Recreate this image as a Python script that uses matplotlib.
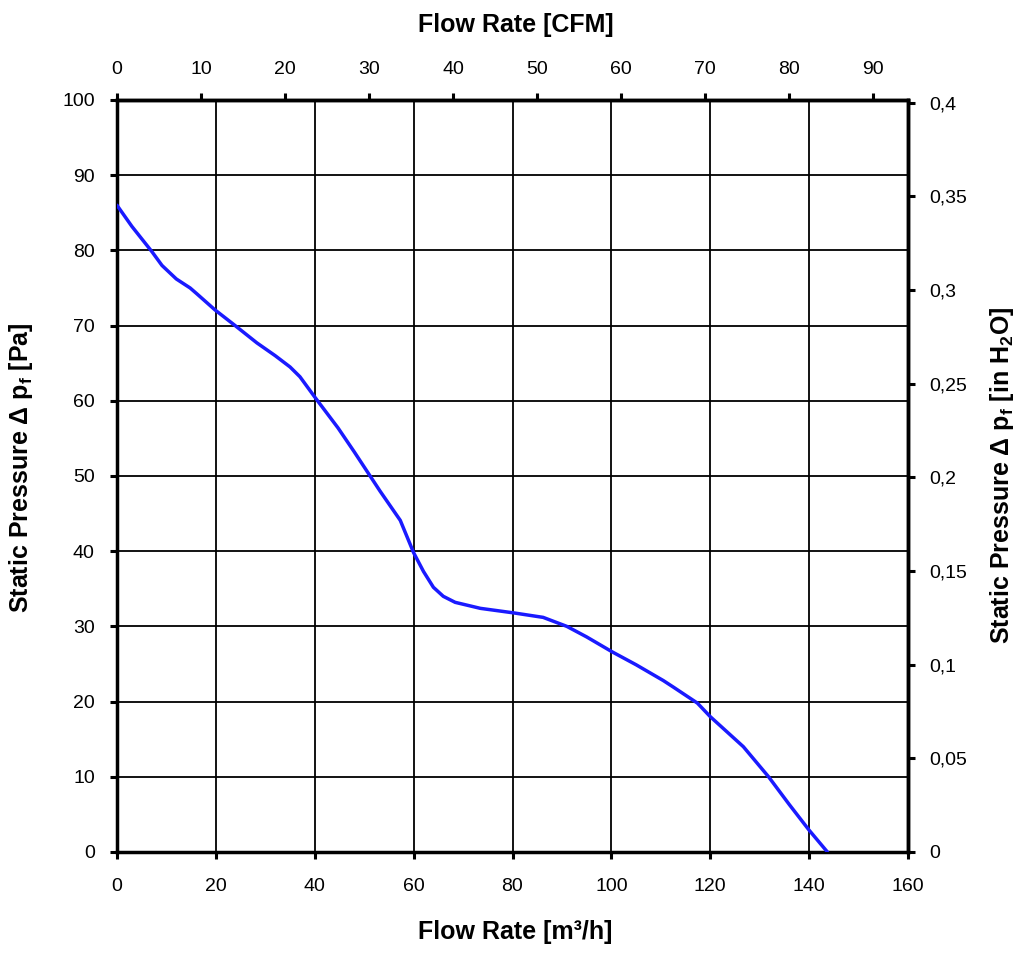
import numpy as np
import matplotlib
matplotlib.use("Agg")
import matplotlib.pyplot as plt
from matplotlib.ticker import FixedLocator, FuncFormatter

plt.rcParams['font.family'] = ['Liberation Sans', 'DejaVu Sans']
plt.rcParams['mathtext.fontset'] = 'custom'
plt.rcParams['mathtext.rm'] = 'Liberation Sans:bold'
plt.rcParams['mathtext.it'] = 'Liberation Sans:bold'
plt.rcParams['mathtext.bf'] = 'Liberation Sans:bold'

# fan curve: flow [m3/h], static pressure [Pa]
flow = [0, 3, 7.1, 9.1, 12, 14.8, 16.2, 19.8, 23.9, 28.3, 32, 35, 37, 40,
        44.7, 48, 51.2, 53.2, 57.3, 60, 62, 64, 66, 68.4, 73.5, 80.2, 86.2,
        91, 95, 100.2, 105, 110.5, 112.6, 117.4, 120, 126.7, 131.8, 136,
        140, 143.7]
pressure = [86, 83.2, 79.8, 78, 76.2, 75, 74.2, 72.1, 70, 67.7, 66, 64.5, 63.2,
            60.5, 56.4, 53.2, 50, 48.0, 44.1, 39.8, 37.3, 35.2, 34, 33.2, 32.4,
            31.8, 31.2, 30, 28.6, 26.6, 24.9, 22.8, 21.9, 19.8, 18, 14, 10,
            6.3, 2.9, 0]

m3h_ticks = list(range(0, 161, 20))
pa_ticks = list(range(0, 101, 10))
cfm_ticks = list(range(0, 91, 10))
inh2o_ticks = [0, 0.05, 0.1, 0.15, 0.2, 0.25, 0.3, 0.35, 0.4]

CFM = 1.699   # m3/h per CFM
INH2O = 249.089  # Pa per inH2O

fig = plt.figure(figsize=(10.24, 9.61), dpi=100)
ax = fig.add_axes([117/1024, 1-852/961, (908-117)/1024, (852-100)/961])

ax.plot(flow, pressure, color='#1a1aff', lw=2.5, solid_capstyle='round', zorder=3)

ax.set_xlim(0, 160)
ax.set_ylim(0, 100)
ax.set_xticks(m3h_ticks)
ax.set_yticks(pa_ticks)
ax.grid(True, color='black', lw=1.3)
for s in ax.spines.values():
    s.set_linewidth(2.5)
ax.tick_params(axis='x', direction='out', length=5, width=2.2, labelsize=14, pad=14)
ax.tick_params(axis='y', direction='out', length=5, width=2.2, labelsize=14, pad=11)

top = ax.secondary_xaxis('top', functions=(lambda v: v/CFM, lambda v: v*CFM))
top.xaxis.set_major_locator(FixedLocator(cfm_ticks))
top.tick_params(direction='out', length=5, width=2.2, labelsize=14, pad=11)
top.spines['top'].set_linewidth(2.5)

right = ax.secondary_yaxis('right', functions=(lambda p: p/INH2O, lambda p: p*INH2O))
right.yaxis.set_major_locator(FixedLocator(inh2o_ticks))
right.yaxis.set_major_formatter(FuncFormatter(lambda v, pos: ('%g' % v).replace('.', ',')))
right.tick_params(direction='out', length=5, width=2.2, labelsize=14, pad=10)
right.spines['right'].set_linewidth(2.5)

lab = dict(fontsize=18, fontweight='bold', ha='center', va='center')
fig.text(515/1024, 1-932/961, 'Flow Rate [m³/h]', **lab)
fig.text(516/1024, 1-25/961, 'Flow Rate [CFM]', **lab)
fig.text(21/1024, 1-468/961, r'Static Pressure Δ p$_\mathrm{f}$ [Pa]', rotation=90, **lab)
fig.text(1002/1024, 1-475/961, r'Static Pressure Δ p$_\mathrm{f}$ [in H$_\mathrm{2}$O]',
         rotation=90, **lab)

fig.savefig('out.png', dpi=100, facecolor='white')
